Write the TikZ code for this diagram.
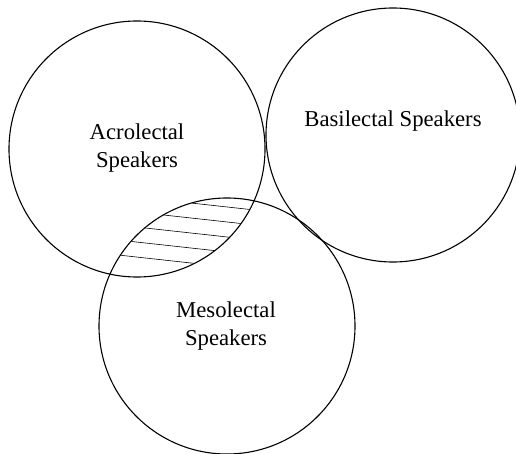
\documentclass[tikz,border=0pt]{standalone}
\usepackage{fontspec}
\setmainfont{Liberation Serif}
\usepackage{tikz}

\begin{document}
\begin{tikzpicture}[
  x=1pt, y=-1pt,
  font=\fontsize{22.7}{28.4}\selectfont,
  grp/.style={circle, draw=black, line width=1.1pt, minimum size=256pt, inner sep=0pt},
  lbl/.style={align=center, inner sep=0pt},
  hatch/.style={draw=black, line width=0.6pt}
]
\useasboundingbox (0,0) rectangle (516,454);
\node[grp] (acro) at (137,149) {};
\node[grp, minimum size=254pt] (basi) at (393,135) {};
\node[grp] (meso) at (227,326) {};
\node[lbl] (acrotxt) at (137,148) {Acrolectal\\Speakers};
\node[lbl] (basitxt) at (393,121) {Basilectal Speakers};
\node[lbl] (mesotxt) at (226,326) {Mesolectal\\Speakers};
% hatching in the overlap of acrolectal and mesolectal
\begin{scope}
  \clip (137,149) circle (127.5pt);
  \clip (227,326) circle (127.5pt);
  \foreach \yy in {204,219,234,249,264}
    \draw[hatch] (60,\yy-15.4) -- (320,\yy+13.2);
\end{scope}
\end{tikzpicture}
\end{document}
